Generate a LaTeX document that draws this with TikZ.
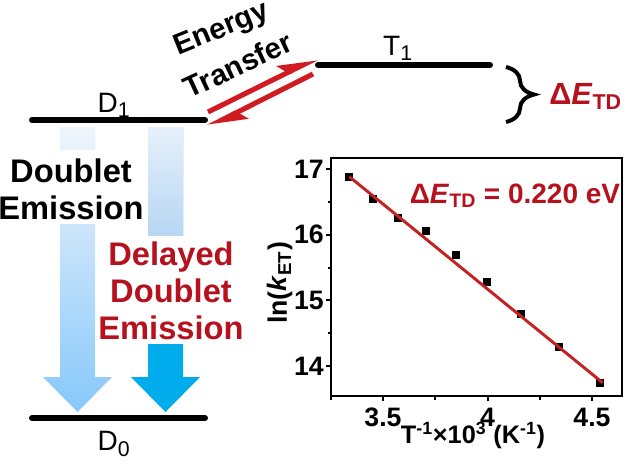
\documentclass[tikz,border=0pt]{standalone}
\usepackage{fontspec}
\setmainfont{Liberation Sans}
\usetikzlibrary{arrows.meta,decorations.pathreplacing}
\definecolor{dred}{RGB}{182,18,30}
\definecolor{ared}{RGB}{208,28,32}
\definecolor{fitred}{RGB}{196,34,34}
\definecolor{cyanA}{RGB}{0,172,236}
\definecolor{lbtop}{RGB}{240,245,252}
\definecolor{lbbot}{RGB}{135,200,250}
\definecolor{rbtop}{RGB}{230,240,251}
\definecolor{rbmid}{RGB}{182,214,243}
\begin{document}
\begin{tikzpicture}[x=0.75pt,y=-0.75pt,
  level/.style={line width=4.5pt,line cap=round},
  lvlabel/.style={font=\fontsize{21}{24}\selectfont, inner sep=0pt},
  big/.style={font=\fontsize{24.5}{27.75}\selectfont\bfseries, align=center, inner sep=0pt},
  ettext/.style={font=\fontsize{22}{24}\selectfont\bfseries, inner sep=0pt},
  etarrow/.style={ared, line width=3.8pt, -{Stealth[left,length=24pt,width=16pt,inset=5pt]}},
  axline/.style={line width=1.5pt},
  ticklab/.style={font=\fontsize{20}{22}\selectfont\bfseries, inner sep=0pt},
  datapt/.style={fill=black, minimum size=6pt, inner sep=0pt, rectangle}
]
\useasboundingbox (0,0) rectangle (624,462);
% ---------------- blue emission arrows
\path[top color=lbtop, bottom color=lbbot] (60,127) -- (95,127) -- (95,377) -- (112,377) -- (77.5,412) -- (43,377) -- (60,377) -- cycle;
\fill[cyanA] (148,127) -- (183,127) -- (183,377) -- (200,377) -- (165.5,412) -- (131,377) -- (148,377) -- cycle;
\fill[top color=rbtop, bottom color=rbmid] (148,127) rectangle (183,237);
\fill[white] (56,150) rectangle (99,224);
\fill[white] (144,236) rectangle (187,344);
\node[big] (DE) at (71,189) {Doublet\\Emission};
\node[big, text=dred] (DDE) at (171,291) {Delayed\\Doublet\\Emission};
% ---------------- levels
\coordinate (D1a) at (32,120); \coordinate (D1b) at (205,120);
\coordinate (T1a) at (318,65); \coordinate (T1b) at (490,65);
\coordinate (D0a) at (32,418); \coordinate (D0b) at (205,418);
\draw[level] (D1a) -- (D1b);
\draw[level] (T1a) -- (T1b);
\draw[level] (D0a) -- (D0b);
\node[lvlabel] (D1) at (114,105) {D\textsubscript{\fontsize{16}{16}\selectfont 1}};
\node[lvlabel] (T1) at (398,48) {T\textsubscript{\fontsize{16}{16}\selectfont 1}};
\node[lvlabel] (D0) at (114,444) {D\textsubscript{\fontsize{16}{16}\selectfont 0}};
% ---------------- energy transfer
\node[ettext, rotate=22] (ET1) at (222,30) {Energy};
\node[ettext, rotate=25] (ET2) at (238,65) {Transfer};
\coordinate (a1) at (208,112); \coordinate (a2) at (317,58);
\coordinate (b1) at (313,74); \coordinate (b2) at (208,127);
\draw[etarrow] (a1) -- (a2);
\draw[etarrow] (b1) -- (b2);
% ---------------- brace
\coordinate (bt) at (506,67); \coordinate (bb) at (506,122);
\draw[line width=3pt, decorate, decoration={brace, amplitude=21pt}] (bt) -- (bb);
\node[font=\fontsize{23}{24}\selectfont\bfseries, text=dred, anchor=west, inner sep=0pt] (dE) at (549,96) {Δ\textit{E}\textsubscript{TD}};
% ---------------- plot
\draw[axline] (330.75,158) rectangle (622,396);
\foreach \Y in {14,15,16,17} {
  \draw[axline] (330.75,{1285.9-65.7*\Y}) -- ++(-5,0);
  \node[ticklab, anchor=east] at (324,{1285.9-65.7*\Y}) {\Y};
}
\foreach \Y in {14.5,15.5,16.5} {
  \draw[axline] (330.75,{1285.9-65.7*\Y}) -- ++(-3,0);
}
\foreach \X/\L in {3.5/3.5,4/4,4.5/4.5} {
  \draw[axline] ({-348.5+209*\X},396) -- ++(0,5);
  \node[ticklab] at ({-348.5+209*\X},417) {\L};
}
\foreach \X in {3.25,3.75,4.25} {
  \draw[axline] ({-348.5+209*\X},396) -- ++(0,4);
}
\node[font=\fontsize{19}{20}\selectfont\bfseries, inner sep=0pt, anchor=base] (xl) at (473,443) {T\textsuperscript{-1}×10\textsuperscript{3} (K\textsuperscript{-1})};
\node[font=\fontsize{20}{22}\selectfont\bfseries, inner sep=0pt, rotate=90] (yl) at (280,283) {ln(\textit{k}\textsubscript{ET})};
\begin{scope}[shift={(-348.5,1285.9)}, x=156.75pt, y=49.275pt]
  \node[datapt] (p1) at (3.339,16.874) {};
  \node[datapt] (p2) at (3.451,16.54) {};
  \node[datapt] (p3) at (3.573,16.26) {};
  \node[datapt] (p4) at (3.706,16.06) {};
  \node[datapt] (p5) at (3.849,15.69) {};
  \node[datapt] (p6) at (3.999,15.28) {};
  \node[datapt] (p7) at (4.161,14.79) {};
  \node[datapt] (p8) at (4.343,14.29) {};
  \node[datapt] (p9) at (4.54,13.74) {};
  \coordinate (f1) at (3.339,16.883);
  \coordinate (f2) at (4.551,13.747);
  \draw[fitred, line width=2.2pt] (f1) -- (f2);
\end{scope}
\node[font=\fontsize{21}{23}\selectfont\bfseries, text=dred, inner sep=0pt, anchor=base] (fitlab) at (515,203) {Δ\textit{E}\textsubscript{TD} = 0.220 eV};
\end{tikzpicture}
\end{document}
